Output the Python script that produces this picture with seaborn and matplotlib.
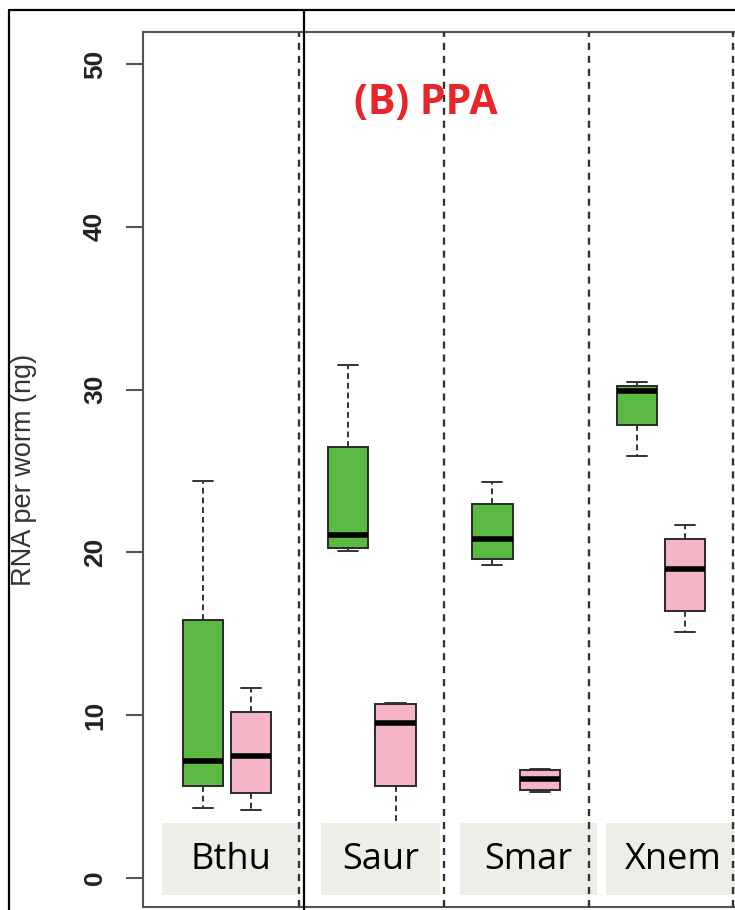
import numpy as np
import pandas as pd
import matplotlib
matplotlib.use("Agg")
import matplotlib.pyplot as plt
from matplotlib.lines import Line2D
from matplotlib.patches import Rectangle
import seaborn as sns

# five-number summaries (min, q1, median, q3, max)
species = ["Bthu", "Saur", "Smar", "Xnem"]
groups = ["untreated", "PPA"]
green_vals = {
    "Bthu": [4.3, 5.65, 7.2, 15.85, 24.4],
    "Saur": [20.1, 20.3, 21.1, 26.5, 31.5],
    "Smar": [19.2, 19.6, 20.8, 23.0, 24.3],
    "Xnem": [25.9, 27.8, 29.9, 30.2, 30.5],
}
pink_vals = {
    "Bthu": [4.2, 5.2, 7.5, 10.2, 11.7],
    "Saur": [3.0, 5.65, 9.55, 10.7, 10.75],
    "Smar": [5.3, 5.4, 6.1, 6.65, 6.7],
    "Xnem": [15.1, 16.4, 19.0, 20.8, 21.7],
}
yticks = [0, 10, 20, 30, 40, 50]

rows = []
for sp in species:
    for v in green_vals[sp]:
        rows.append((sp, groups[0], v))
    for v in pink_vals[sp]:
        rows.append((sp, groups[1], v))
df = pd.DataFrame(rows, columns=["species", "group", "rna"])

sns.set_style("white")
plt.rcParams["font.family"] = ["Liberation Sans", "DejaVu Sans"]

fig = plt.figure(figsize=(7.35, 9.10), dpi=100)
ax = fig.add_axes([143 / 735, 3 / 910, 617 / 735, 875 / 910])

dash = (0, (3, 2))
sns.boxplot(data=df, x="species", y="rna", hue="group", order=species,
            hue_order=groups, palette=["#5bb944", "#f5b5c6"], saturation=1,
            width=0.66, gap=0.16, whis=(0, 100), showfliers=False,
            linecolor="#2a2a2a", linewidth=1.4, legend=False, ax=ax,
            medianprops=dict(color="black", linewidth=4, solid_capstyle="butt"),
            whiskerprops=dict(linestyle=dash, color="#333333"),
            capprops=dict(color="#333333"))

for xv in [0.5, 1.5, 2.5, 3.5]:
    ax.axvline(xv, ls=(0, (3, 2.5)), color="#333333", lw=1.7, zorder=5)

ax.set_xlim(-0.58, 3.684)
ax.set_ylim(-1.78, 51.97)
ax.set_xticks([])
ax.set_xlabel("")
ax.set_yticks(yticks)
ax.set_yticklabels([str(t) for t in yticks], rotation=90, va="center",
                   fontsize=19, fontweight="bold", color="#222222")
ax.tick_params(axis="y", length=12, width=1.5, color="#555555", pad=14, left=True)
ax.set_ylabel("RNA per worm (ng)", fontsize=19.5, color="#333333")
ax.yaxis.set_label_coords(-0.172, 0.5)
for s in ["left", "top", "bottom"]:
    ax.spines[s].set_color("#555555")
    ax.spines[s].set_linewidth(1.5)
ax.spines["right"].set_visible(False)

# species tags drawn over the bottom of each panel
tag_spans = [(-0.449, 0.504), (0.65, 1.47), (1.61, 2.56), (2.62, 3.70)]
for sp, (x0, x1) in zip(species, tag_spans):
    ax.add_patch(Rectangle((x0, -1.04), x1 - x0, 4.42, facecolor="#efede7",
                           edgecolor="none", zorder=4))
    ax.text((x0 + min(x1, 3.55)) / 2, 1.1, sp, ha="center", va="center",
            fontsize=26, family="Open Sans", color="black", zorder=6)

fig.text(426 / 735, 1 - 104 / 910, "(B) PPA", ha="center", va="center",
         fontsize=29.5, fontweight="bold", family="Open Sans", color="#e8252b")

# outer frame from the composite figure
lk = dict(color="black", lw=1.6, transform=fig.transFigure)
fig.add_artist(Line2D([9 / 735, 9 / 735], [0, 1 - 10 / 910], **lk))
fig.add_artist(Line2D([9 / 735, 1], [1 - 10 / 910, 1 - 10 / 910], **lk))
fig.add_artist(Line2D([304 / 735, 304 / 735], [0, 1 - 10 / 910], **lk))

fig.savefig("out.png", dpi=100)
